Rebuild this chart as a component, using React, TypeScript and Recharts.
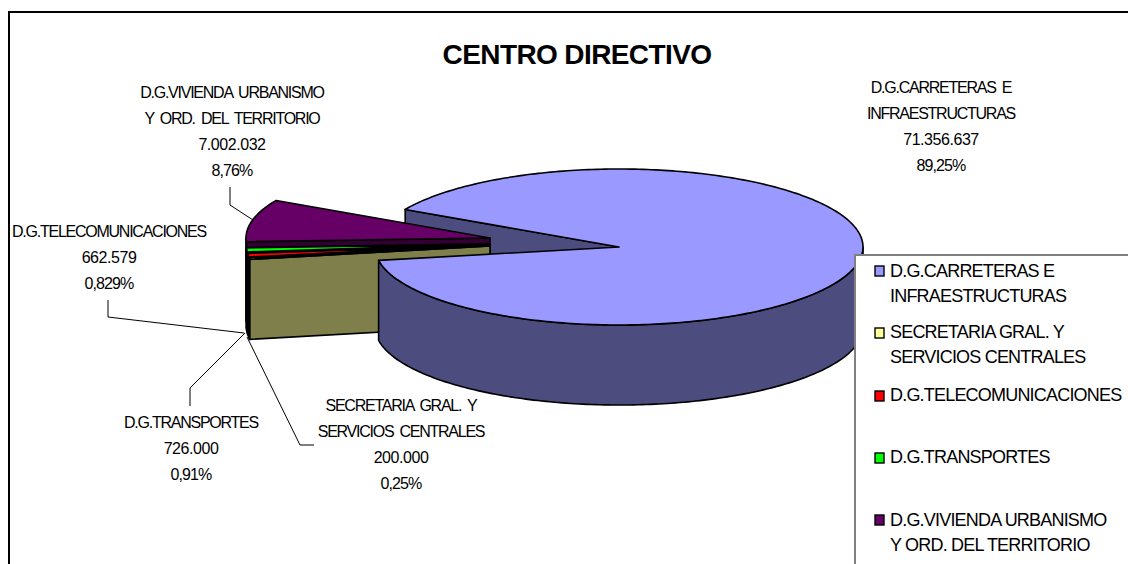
import React from "react";
import { PieChart, Pie, Cell, Legend } from "recharts";

const categories = [
  "D.G.CARRETERAS E INFRAESTRUCTURAS",
  "SECRETARIA GRAL. Y SERVICIOS CENTRALES",
  "D.G.TELECOMUNICACIONES",
  "D.G.TRANSPORTES",
  "D.G.VIVIENDA URBANISMO Y ORD. DEL TERRITORIO",
];
const amounts = [71356637, 200000, 662579, 726000, 7002032];
const amountLabels = ["71.356.637", "200.000", "662.579", "726.000", "7.002.032"];
const percentLabels = ["89,25%", "0,25%", "0,829%", "0,91%", "8,76%"];
const sliceColors = ["#9999FF", "#FFFF99", "#FF0000", "#00FF00", "#660066"];
const sideColors = ["#4C4C7F", "#7F7F4C", "#7F0000", "#007F00", "#330033"];
const labelNameLines = [
  ["D.G.CARRETERAS E", "INFRAESTRUCTURAS"],
  ["SECRETARIA GRAL. Y", "SERVICIOS CENTRALES"],
  ["D.G.TELECOMUNICACIONES"],
  ["D.G.TRANSPORTES"],
  ["D.G.VIVIENDA URBANISMO", "Y ORD. DEL TERRITORIO"],
];

// Drawn back to front, so the table runs in reverse and the pie turns the other way.
const chartData = categories
  .map((name, i) => ({ name, value: amounts[i], source: i }))
  .reverse();

const FONT = '"Liberation Sans", Arial, sans-serif';
const TILT = 78 / 244;
const DEPTH = 80;
const sliceShift = [
  [0, 0],
  [-129, -1],
  [-129, -2],
  [-129, -3],
  [-129, -9],
];
const labelBoxes = [
  { x: 941, y: 87 },
  { x: 401, y: 405 },
  { x: 109, y: 231 },
  { x: 191, y: 422 },
  { x: 232, y: 92 },
];
const leaders = [
  null,
  "M314 445 L300 445 L247 337",
  "M108 300 L108 317 L244 333",
  "M190 406 L190 388 L245 333",
  "M230 187 L230 205 L253 220",
];
const legendRows = [
  { swatch: 271, rows: [271, 296] },
  { swatch: 333, rows: [332, 357] },
  { swatch: 396, rows: [395] },
  { swatch: 458, rows: [457] },
  { swatch: 520, rows: [520, 545] },
];

const sourceOf = (name: string) => categories.indexOf(name);

function rim(cx: number, cy: number, r: number, a: number) {
  const t = (a * Math.PI) / 180;
  return [cx + r * Math.cos(t), cy - r * TILT * Math.sin(t)];
}
function arc(cx: number, cy: number, r: number, from: number, to: number) {
  const pts: number[][] = [];
  const n = Math.max(2, Math.ceil(Math.abs(to - from)));
  for (let i = 0; i <= n; i++) pts.push(rim(cx, cy, r, from + ((to - from) * i) / n));
  return pts;
}
const poly = (pts: number[][]) =>
  "M" + pts.map((p) => p[0].toFixed(2) + " " + p[1].toFixed(2)).join(" L") + " Z";
const drop = (pts: number[][]) => pts.map((p) => [p[0], p[1] + DEPTH]);
const edgeFor = (i: number) => ({
  stroke: "#000",
  strokeWidth: i === 2 || i === 3 ? 2 : 1.6,
  strokeLinejoin: "round" as const,
});

function BackShape(props: any) {
  const i = sourceOf(props.name);
  if (i !== 0) return <g />;
  const { cx, cy, outerRadius: r, endAngle } = props;
  const a = [cx, cy];
  const b = rim(cx, cy, r, endAngle);
  return <path d={poly([a, b, [b[0], b[1] + DEPTH], [a[0], a[1] + DEPTH]])} fill={sideColors[0]} {...edgeFor(0)} />;
}

function FrontShape(props: any) {
  const i = sourceOf(props.name);
  const cx = props.cx + sliceShift[i][0];
  const cy = props.cy + sliceShift[i][1];
  const r = props.outerRadius;
  const { startAngle, endAngle } = props;
  const top = arc(cx, cy, r, startAngle, endAngle);
  const wallFrom = Math.max(startAngle, 180);
  const wallTo = Math.min(endAngle, 360);
  const wall = wallTo > wallFrom ? arc(cx, cy, r, wallFrom, wallTo) : null;
  const end = rim(cx, cy, r, endAngle);
  const edge = edgeFor(i);
  return (
    <g>
      {i !== 0 && (
        <path
          d={poly([[cx, cy], end, [end[0], end[1] + DEPTH], [cx, cy + DEPTH]])}
          fill={sideColors[i]}
          {...edge}
        />
      )}
      {wall && <path d={poly([...wall, ...drop(wall).reverse()])} fill={sideColors[i]} {...edge} />}
      <path d={poly([[cx, cy], ...top])} fill={sliceColors[i]} {...edge} />
    </g>
  );
}

function SliceLabel(props: any) {
  const i = sourceOf(props.name);
  const box = labelBoxes[i];
  const names = labelNameLines[i];
  const lines = [...names, amountLabels[i], percentLabels[i]];
  return (
    <g>
      {leaders[i] && <path d={leaders[i] as string} fill="none" stroke="#000" strokeWidth={1} />}
      {lines.map((t, k) => {
        const isName = k < names.length;
        const isAmount = k === names.length;
        return (
          <text
            key={k}
            x={box.x}
            y={box.y + k * 26 + 6}
            textAnchor="middle"
            fontFamily={FONT}
            fontSize={16}
            letterSpacing={isName ? -1.25 : isAmount ? -0.45 : -0.9}
            wordSpacing={isName ? 3 : 0}
            fill="#000"
          >
            {t}
          </text>
        );
      })}
    </g>
  );
}

const LEGEND_LEFT = 854;
const LEGEND_TOP = 254;

function LegendBox() {
  return (
    <svg width={274} height={310} style={{ display: "block" }}>
      {categories.map((c, i) => {
        const rows = labelNameLines[i];
        const pos = legendRows[i];
        return (
          <g key={c}>
            <rect
              x={875 - LEGEND_LEFT - 2}
              y={pos.swatch - 5 - LEGEND_TOP - 2}
              width={9}
              height={10}
              fill={sliceColors[i]}
              stroke="#000"
              strokeWidth={1.4}
            />
            {rows.map((t, k) => (
              <text
                key={k}
                x={890 - LEGEND_LEFT - 2}
                y={pos.rows[k] + 6 - LEGEND_TOP - 2}
                fontFamily={FONT}
                fontSize={18}
                letterSpacing={-0.8}
                fill="#000"
              >
                {t}
              </text>
            ))}
          </g>
        );
      })}
    </svg>
  );
}

export default function App() {
  return (
    <div style={{ position: "absolute", left: 0, top: 0, width: 1128, height: 564, background: "#fff" }}>
      <PieChart width={1128} height={564} margin={{ top: 0, right: 0, bottom: 0, left: 0 }}>
        <rect x={9} y={12} width={1300} height={800} fill="#fff" stroke="#000" strokeWidth={2} />
        <text
          x={577}
          y={64}
          textAnchor="middle"
          fontFamily={FONT}
          fontWeight="bold"
          fontSize={28}
          letterSpacing={-0.6}
          fill="#000"
        >
          CENTRO DIRECTIVO
        </text>
        <Pie
          data={chartData}
          dataKey="value"
          nameKey="name"
          cx={619}
          cy={247}
          outerRadius={244}
          startAngle={151.2}
          endAngle={511.2}
          legendType="none"
          label={false}
          labelLine={false}
          isAnimationActive={false}
          shape={BackShape}
        >
          {chartData.map((d) => (
            <Cell key={d.name} fill={sideColors[d.source]} />
          ))}
        </Pie>
        <Pie
          data={chartData}
          dataKey="value"
          nameKey="name"
          cx={619}
          cy={247}
          outerRadius={244}
          startAngle={151.2}
          endAngle={511.2}
          label={SliceLabel}
          labelLine={false}
          isAnimationActive={false}
          shape={FrontShape}
        >
          {chartData.map((d) => (
            <Cell key={d.name} fill={sliceColors[d.source]} />
          ))}
        </Pie>
        <Legend
          layout="vertical"
          align="right"
          verticalAlign="top"
          content={LegendBox}
          wrapperStyle={{
            left: LEGEND_LEFT,
            top: LEGEND_TOP,
            right: "auto",
            bottom: "auto",
            width: 274,
            height: 310,
            background: "#fff",
            borderLeft: "2px solid #808080",
            borderTop: "2px solid #808080",
            boxSizing: "border-box",
            overflow: "hidden",
          }}
        />
      </PieChart>
    </div>
  );
}
